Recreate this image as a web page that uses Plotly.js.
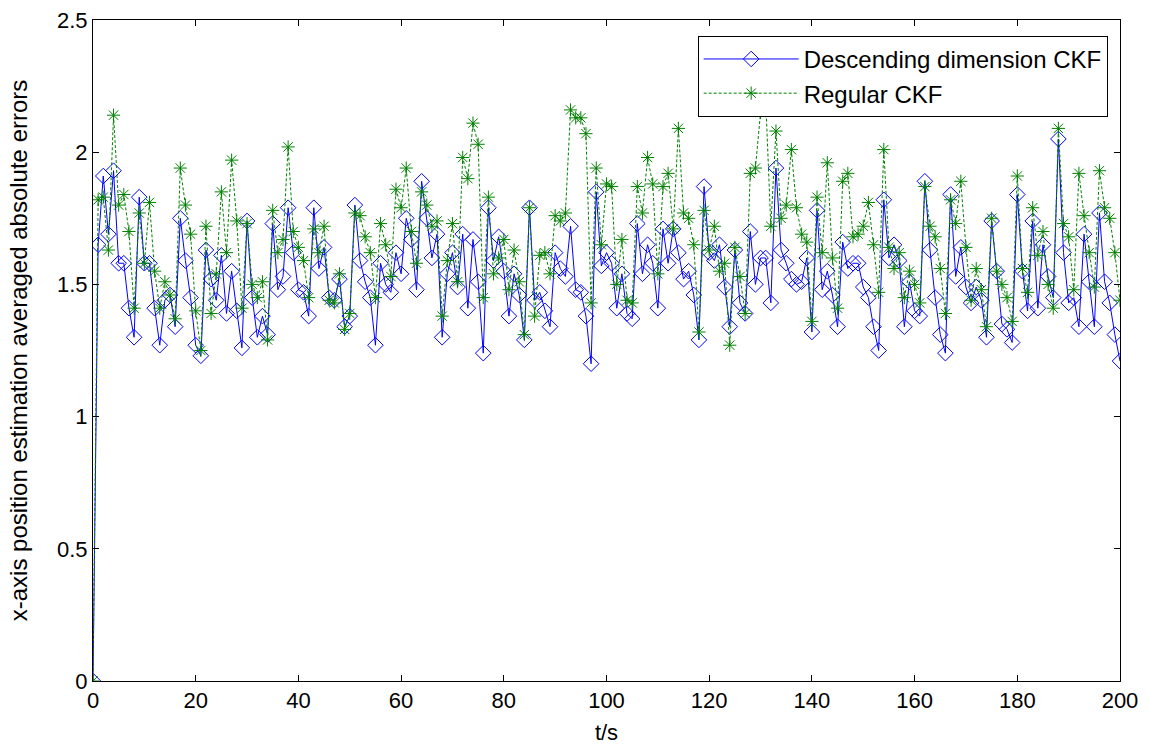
<!DOCTYPE html>
<html>
<head>
<meta charset="utf-8">
<script src="https://cdn.plot.ly/plotly-3.0.1.min.js"></script>
<style>html,body{margin:0;padding:0;background:#fff;}#chart{width:1150px;height:749px;}</style>
</head>
<body>
<div id="chart"></div>
<script>
// time axis t = 0..200 s (step 1 s)
const tValues = Array.from({length: 201}, (_, i) => i);

const seriesNames = ["Descending dimension CKF", "Regular CKF"];

const descendingCKF = [
0,1.65,1.91,1.69,1.93,1.58,1.58,1.41,1.30,1.83,
1.58,1.58,1.41,1.27,1.44,1.46,1.34,1.75,1.59,1.45,
1.27,1.23,1.63,1.52,1.44,1.61,1.39,1.55,1.40,1.26,
1.74,1.45,1.30,1.38,1.31,1.73,1.48,1.53,1.79,1.62,
1.48,1.47,1.38,1.79,1.56,1.64,1.45,1.44,1.52,1.34,
1.38,1.80,1.59,1.51,1.45,1.27,1.58,1.50,1.47,1.62,
1.54,1.75,1.67,1.48,1.89,1.75,1.60,1.69,1.30,1.54,
1.62,1.49,1.69,1.41,1.67,1.51,1.24,1.79,1.59,1.68,
1.55,1.38,1.54,1.46,1.29,1.79,1.44,1.47,1.40,1.34,
1.62,1.56,1.53,1.72,1.48,1.47,1.38,1.20,1.85,1.57,
1.62,1.58,1.41,1.54,1.39,1.37,1.73,1.54,1.65,1.58,
1.41,1.71,1.58,1.71,1.62,1.52,1.55,1.46,1.29,1.87,
1.62,1.59,1.65,1.49,1.34,1.63,1.43,1.39,1.70,1.50,
1.60,1.60,1.43,1.94,1.63,1.58,1.52,1.50,1.51,1.60,
1.32,1.78,1.48,1.55,1.46,1.34,1.66,1.56,1.58,1.58,
1.49,1.45,1.34,1.25,1.82,1.60,1.65,1.59,1.34,1.51,
1.40,1.38,1.89,1.63,1.45,1.31,1.24,1.84,1.53,1.64,
1.49,1.43,1.49,1.44,1.30,1.74,1.55,1.35,1.33,1.28,
1.84,1.55,1.40,1.74,1.41,1.65,1.53,1.45,2.05,1.62,
1.43,1.45,1.34,1.69,1.51,1.34,1.77,1.51,1.43,1.31,
1.21
];

const regularCKF = [
0,1.82,1.83,1.63,2.14,1.80,1.84,1.70,1.41,1.77,
1.58,1.81,1.55,1.41,1.51,1.46,1.37,1.94,1.80,1.69,
1.40,1.25,1.72,1.39,1.54,1.85,1.62,1.97,1.74,1.41,
1.73,1.50,1.45,1.51,1.29,1.78,1.62,1.67,2.02,1.70,
1.64,1.59,1.45,1.71,1.62,1.72,1.44,1.43,1.54,1.33,
1.39,1.77,1.76,1.68,1.62,1.45,1.73,1.65,1.53,1.86,
1.79,1.94,1.70,1.58,1.85,1.80,1.72,1.74,1.38,1.59,
1.73,1.51,1.98,1.90,2.11,2.03,1.45,1.83,1.54,1.60,
1.67,1.48,1.63,1.51,1.31,1.79,1.38,1.61,1.62,1.54,
1.76,1.74,1.77,2.16,2.13,2.13,2.07,1.43,1.94,1.65,
1.88,1.87,1.50,1.67,1.44,1.43,1.87,1.77,1.98,1.88,
1.54,1.87,1.92,1.71,2.09,1.77,1.75,1.65,1.32,1.78,
1.63,1.72,1.55,1.58,1.27,1.64,1.53,1.39,1.92,1.94,
2.15,2.20,1.72,2.08,1.75,1.80,2.01,1.79,1.69,1.66,
1.36,1.83,1.62,1.96,1.60,1.41,1.89,1.92,1.68,1.69,
1.72,1.81,1.65,1.47,2.01,1.64,1.56,1.62,1.45,1.55,
1.50,1.43,1.87,1.72,1.68,1.56,1.39,1.82,1.73,1.89,
1.64,1.44,1.56,1.48,1.34,1.75,1.55,1.50,1.45,1.36,
1.91,1.56,1.47,1.79,1.61,1.70,1.50,1.41,2.09,1.73,
1.68,1.48,1.92,1.76,1.62,1.49,1.93,1.79,1.75,1.62,
1.44
];

const xTickValues = [0,20,40,60,80,100,120,140,160,180,200];
const yTickValues = [0,0.5,1,1.5,2,2.5];

const FONT = "Arial, 'Liberation Sans', sans-serif";

const traces = [
  {
    x: tValues, y: descendingCKF, name: seriesNames[0],
    type: "scatter", mode: "lines+markers",
    line: {color: "#0000ff", width: 1},
    marker: {symbol: "diamond-open", size: 12, color: "#0000ff", line: {width: 1, color: "#0000ff"}}
  },
  {
    x: tValues, y: regularCKF, name: seriesNames[1],
    type: "scatter", mode: "lines+markers",
    line: {color: "#008000", width: 1, dash: "3px,2px"},
    marker: {symbol: "asterisk-open", size: 11, color: "#008000", line: {width: 1, color: "#008000"}}
  }
];

const layout = {
  width: 1150, height: 749,
  margin: {l: 93, r: 30, t: 20, b: 68},
  paper_bgcolor: "#ffffff", plot_bgcolor: "#ffffff",
  font: {family: FONT, size: 22, color: "#000000"},
  showlegend: true,
  legend: {
    x: 0.988, xanchor: "right", y: 0.976, yanchor: "top",
    bgcolor: "#ffffff", bordercolor: "#000000", borderwidth: 1,
    font: {family: FONT, size: 24, color: "#000000"},
    itemwidth: 95, tracegroupgap: 0
  },
  xaxis: {
    range: [0, 200], tickvals: xTickValues,
    ticks: "inside", ticklen: 6, tickcolor: "#000000",
    showline: true, linecolor: "#000000", linewidth: 1, mirror: "ticks",
    showgrid: false, zeroline: false,
    tickfont: {family: FONT, size: 22, color: "#000000"},
    title: {text: "t/s", font: {family: FONT, size: 22, color: "#000000"}, standoff: 12}
  },
  yaxis: {
    range: [0, 2.5], tickvals: yTickValues,
    ticks: "inside", ticklen: 6, tickcolor: "#000000",
    showline: true, linecolor: "#000000", linewidth: 1, mirror: "ticks",
    showgrid: false, zeroline: false,
    tickfont: {family: FONT, size: 22, color: "#000000"},
    title: {text: "x-axis position estimation averaged absolute errors", font: {family: FONT, size: 24, color: "#000000"}, standoff: 22}
  }
};

Plotly.newPlot("chart", traces, layout, {displayModeBar: false, staticPlot: true});
</script>
</body>
</html>
